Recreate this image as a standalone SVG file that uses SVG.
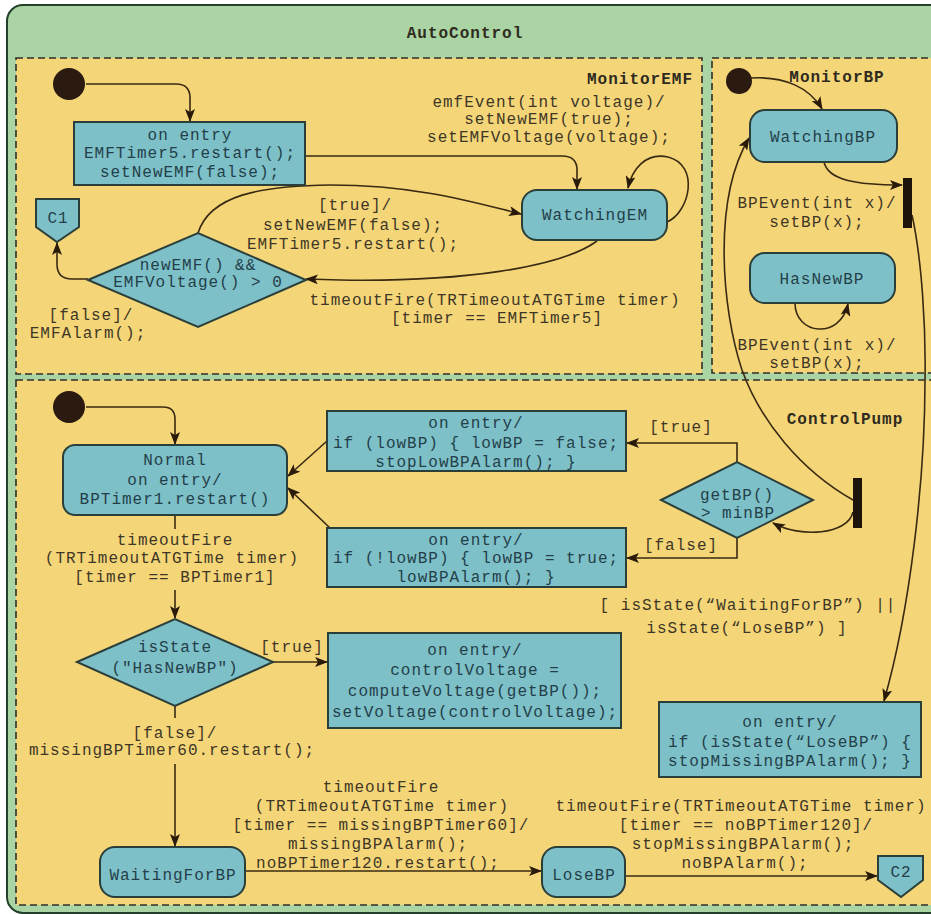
<svg xmlns="http://www.w3.org/2000/svg" width="931" height="914" viewBox="0 0 931 914">
<style>
.t{font-family:"Liberation Mono","DejaVu Sans Mono",monospace;font-size:16px;letter-spacing:1px;fill:#3f3626;text-anchor:middle}
.n{fill:#233f49}
.b{font-weight:bold;fill:#2f2a1e}
.node{fill:#7ec0c8;stroke:#2b3f3a;stroke-width:2}
.region{fill:#f4d679;stroke:#2f2f2a;stroke-width:1.6;stroke-dasharray:7 4}
.e{fill:none;stroke:#3a2a12;stroke-width:1.6}
.a{marker-end:url(#ah)}
.dot{fill:#2a1a10}
.bar{fill:#1e140a}
</style>
<defs>
<marker id="ah" markerUnits="userSpaceOnUse" markerWidth="14" markerHeight="10" refX="12" refY="5" orient="auto">
<path d="M0,0 L13,5 L0,10 L3,5 z" fill="#2a1a0a"/>
</marker>
</defs>

<g id="AutoControl">
<rect x="7" y="5" width="960" height="908" rx="16" fill="#aad4a3" stroke="#23402a" stroke-width="2"/>
<text class="t b" x="465" y="38">AutoControl</text>
</g>

<g id="MonitorEMF">
<rect class="region" x="16" y="58" width="686" height="316"/>
<text class="t b" x="693" y="84" style="text-anchor:end">MonitorEMF</text>
</g>
<g id="MonitorBP">
<rect class="region" x="712" y="58" width="240" height="315"/>
<text class="t b" x="837" y="82">MonitorBP</text>
</g>
<g id="ControlPump">
<rect class="region" x="16" y="380" width="936" height="525"/>
<text class="t b" x="845" y="424">ControlPump</text>
</g>

<g id="connectors">
<path class="e a" d="M86,84 L176,84 Q190,84 190,98 L190,121"/>
<path class="e a" d="M305,156 L562,156 Q577,156 577,170 L577,189"/>
<path class="e a" d="M198,233 C210,195 260,186 330,185 C420,185 480,204 521,214"/>
<path class="e a" d="M597,241 C560,268 460,282 340,280 L306,279"/>
<path class="e a" d="M667,222 C690,212 700,165 668,157 C645,152 632,170 628,188"/>
<path class="e a" d="M88,279 L72,279 Q57,279 57,264 L57,243"/>
<path class="e a" d="M751,78 C785,76 810,88 822,109"/>
<path class="e a" d="M824,162 C828,180 855,185 902,185"/>
<path class="e a" d="M795,303 C795,335 840,340 848,304"/>
<path class="e a" d="M853,500 C800,470 760,420 742,370 C722,310 712,200 749,138"/>
<path class="e a" d="M912,215 C922,260 926,330 925,380 C925,480 910,610 884,701"/>
<path class="e a" d="M86,407 L163,407 Q175,407 175,419 L175,444"/>
<path class="e a" d="M327,441 L288,476"/>
<path class="e a" d="M330,528 L288,488"/>
<path class="e" d="M175,515 L175,529"/>
<path class="e a" d="M175,590 L175,618"/>
<path class="e a" d="M737,462 L737,443 L627,443"/>
<path class="e a" d="M737,538 L737,558 L627,558"/>
<path class="e a" d="M853,512 C848,535 800,538 773,523"/>
<path class="e a" d="M272,662 L327,662"/>
<path class="e" d="M175,706 L175,718"/>
<path class="e a" d="M175,764 L175,846"/>
<path class="e a" d="M245,871 L541,871"/>
<path class="e a" d="M625,876 L877,876"/>
</g>

<g id="labels">
<text class="t" x="549" y="107">emfEvent(int voltage)/</text>
<text class="t" x="549" y="124">setNewEMF(true);</text>
<text class="t" x="549" y="142">setEMFVoltage(voltage);</text>
<text class="t" x="355" y="210">[true]/</text>
<text class="t" x="353" y="230">setNewEMF(false);</text>
<text class="t" x="353" y="249">EMFTimer5.restart();</text>
<text class="t" x="91" y="320">[false]/</text>
<text class="t" x="88" y="338">EMFAlarm();</text>
<text class="t" x="495" y="305">timeoutFire(TRTimeoutATGTime timer)</text>
<text class="t" x="497" y="323">[timer == EMFTimer5]</text>
<text class="t" x="817" y="208">BPEvent(int x)/</text>
<text class="t" x="817" y="227">setBP(x);</text>
<text class="t" x="817" y="350">BPEvent(int x)/</text>
<text class="t" x="817" y="368">setBP(x);</text>
<text class="t" x="175" y="545">timeoutFire</text>
<text class="t" x="172" y="563">(TRTimeoutATGTime timer)</text>
<text class="t" x="175" y="582">[timer == BPTimer1]</text>
<text class="t" x="681" y="432">[true]</text>
<text class="t" x="681" y="550">[false]</text>
<text class="t" x="292" y="652">[true]</text>
<text class="t" x="175" y="738">[false]/</text>
<text class="t" x="172" y="755">missingBPTimer60.restart();</text>
<text class="t" x="748" y="610">[ isState(“WaitingForBP”) ||</text>
<text class="t" x="747" y="633">isState(“LoseBP”) ]</text>
<text class="t" x="381" y="792">timeoutFire</text>
<text class="t" x="382" y="811">(TRTimeoutATGTime timer)</text>
<text class="t" x="381" y="830">[timer == missingBPTimer60]/</text>
<text class="t" x="378" y="849">missingBPAlarm();</text>
<text class="t" x="378" y="868">noBPTimer120.restart();</text>
<text class="t" x="741" y="811">timeoutFire(TRTimeoutATGTime timer)</text>
<text class="t" x="746" y="830">[timer == noBPTimer120]/</text>
<text class="t" x="743" y="849">stopMissingBPAlarm();</text>
<text class="t" x="745" y="868">noBPAlarm();</text>
</g>

<g id="emf_init"><circle class="dot" cx="69" cy="84" r="16"/></g>
<g id="emf_entry">
<rect class="node" x="74" y="122" width="231" height="63"/>
<text class="t n" x="190" y="140">on entry</text>
<text class="t n" x="190" y="158">EMFTimer5.restart();</text>
<text class="t n" x="190" y="177">setNewEMF(false);</text>
</g>
<g id="WatchingEM">
<rect class="node" x="522" y="190" width="145" height="50" rx="15"/>
<text class="t n" x="595" y="220">WatchingEM</text>
</g>
<g id="emf_choice">
<polygon class="node" points="88,280 198,233 306,280 198,327"/>
<text class="t n" x="198" y="270">newEMF() &amp;&amp;</text>
<text class="t n" x="198" y="287">EMFVoltage() &gt; 0</text>
</g>
<g id="C1">
<polygon class="node" points="36,199 79,199 79,227 57,242 36,227"/>
<text class="t n" x="58" y="223">C1</text>
</g>

<g id="bp_init"><circle class="dot" cx="739" cy="81" r="13"/></g>
<g id="WatchingBP">
<rect class="node" x="750" y="110" width="147" height="52" rx="15"/>
<text class="t n" x="823" y="142">WatchingBP</text>
</g>
<g id="bp_fork"><rect class="bar" x="903" y="178" width="9" height="50"/></g>
<g id="HasNewBP">
<rect class="node" x="750" y="253" width="145" height="50" rx="15"/>
<text class="t n" x="822" y="284">HasNewBP</text>
</g>

<g id="cp_init"><circle class="dot" cx="69" cy="407" r="16"/></g>
<g id="Normal">
<rect class="node" x="63" y="445" width="224" height="70" rx="12"/>
<text class="t n" x="175" y="465">Normal</text>
<text class="t n" x="175" y="485">on entry/</text>
<text class="t n" x="175" y="504">BPTimer1.restart()</text>
</g>
<g id="stop_low_alarm">
<rect class="node" x="327" y="411" width="299" height="60"/>
<text class="t n" x="476" y="428">on entry/</text>
<text class="t n" x="476" y="448">if (lowBP) { lowBP = false;</text>
<text class="t n" x="476" y="467">stopLowBPAlarm(); }</text>
</g>
<g id="low_alarm">
<rect class="node" x="327" y="528" width="299" height="59"/>
<text class="t n" x="476" y="545">on entry/</text>
<text class="t n" x="476" y="563">if (!lowBP) { lowBP = true;</text>
<text class="t n" x="476" y="582">lowBPAlarm(); }</text>
</g>
<g id="bp_choice">
<polygon class="node" points="661,500 737,462 813,500 737,538"/>
<text class="t n" x="737" y="500">getBP()</text>
<text class="t n" x="738" y="518">&gt; minBP</text>
</g>
<g id="cp_join"><rect class="bar" x="853" y="478" width="9" height="50"/></g>
<g id="hasnew_choice">
<polygon class="node" points="77,662 175,619 273,662 175,706"/>
<text class="t n" x="175" y="652">isState</text>
<text class="t n" x="175" y="673">("HasNewBP")</text>
</g>
<g id="compute_voltage">
<rect class="node" x="328" y="633" width="293" height="95"/>
<text class="t n" x="475" y="655">on entry/</text>
<text class="t n" x="475" y="675">controlVoltage =</text>
<text class="t n" x="475" y="696">computeVoltage(getBP());</text>
<text class="t n" x="475" y="717">setVoltage(controlVoltage);</text>
</g>
<g id="stop_missing">
<rect class="node" x="659" y="702" width="262" height="75"/>
<text class="t n" x="790" y="727">on entry/</text>
<text class="t n" x="790" y="747">if (isState(“LoseBP”) {</text>
<text class="t n" x="790" y="766">stopMissingBPAlarm(); }</text>
</g>
<g id="WaitingForBP">
<rect class="node" x="100" y="847" width="145" height="50" rx="15"/>
<text class="t n" x="173" y="880">WaitingForBP</text>
</g>
<g id="LoseBP">
<rect class="node" x="542" y="847" width="83" height="50" rx="15"/>
<text class="t n" x="584" y="880">LoseBP</text>
</g>
<g id="C2">
<polygon class="node" points="878,856 923,856 923,880 901,897 878,880"/>
<text class="t n" x="901" y="877">C2</text>
</g>
</svg>
